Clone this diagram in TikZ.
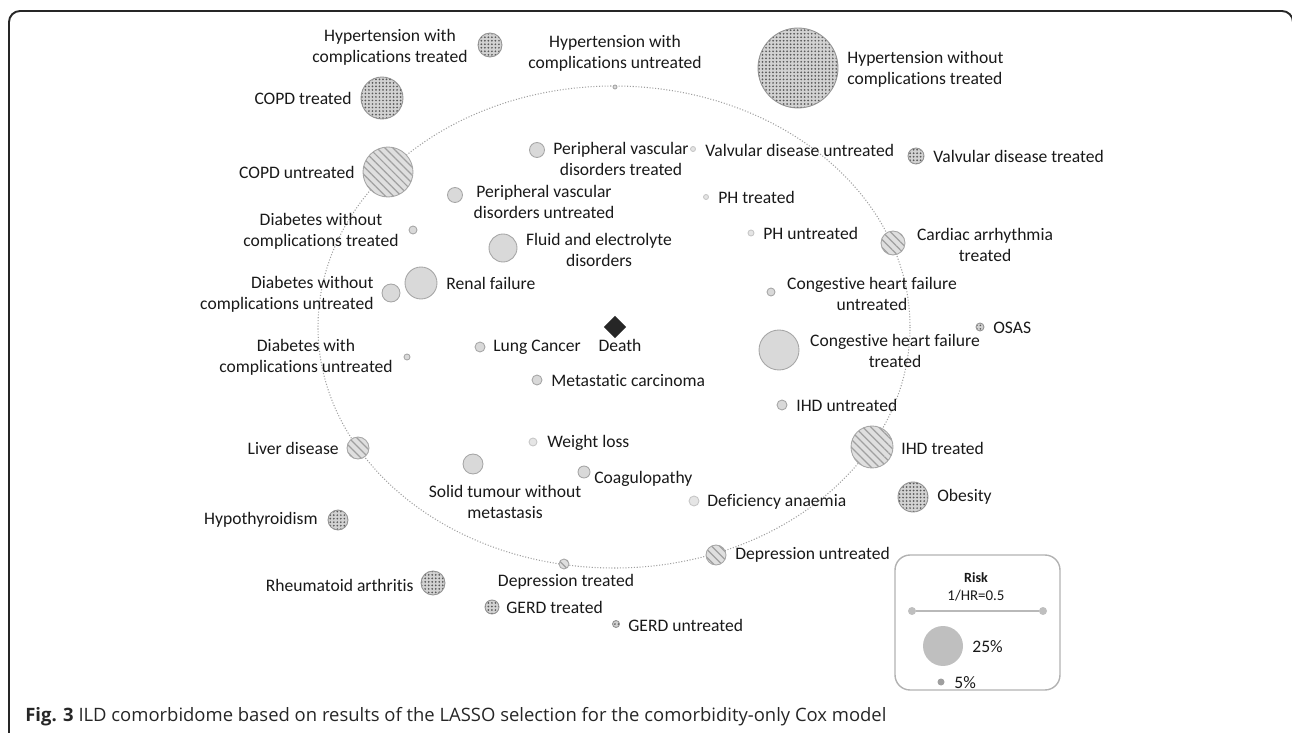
\documentclass[tikz,border=0pt]{standalone}
\usepackage{fontspec}
\setmainfont{Carlito}[Ligatures={NoCommon}]
\newfontfamily\capfont{Open Sans}
\usetikzlibrary{shapes.geometric,patterns.meta}

\begin{document}
\begin{tikzpicture}[
    x=0.02cm, y=-0.02cm,
    bub/.style={circle, draw=gray!70, fill=gray!30, line width=0.5pt, inner sep=0pt,
                minimum size=0.04cm*#1},
    bublight/.style={bub=#1, draw=gray!45, fill=gray!20},
    bubdot/.style={bub=#1, draw=gray!85, preaction={fill=gray!35},
                   pattern={Dots[distance=2pt, radius=0.55pt]}, pattern color=black!65},
    bubline/.style={bub=#1, preaction={fill=gray!25},
                    pattern={Lines[angle=-45, distance=3.2pt, line width=0.7pt]}, pattern color=gray!75},
    lbl/.style={font=\fontsize{10}{12}\selectfont, text=black!90, align=center, inner sep=0pt},
    ring/.style={gray!75, densely dotted, line width=0.6pt},
    frame/.style={black!85, line width=1.1pt, rounded corners=0.22cm},
    death/.style={diamond, fill=black!85, inner sep=0pt, minimum size=0.45cm},
    legbox/.style={draw=gray!60, line width=0.8pt, rounded corners=0.3cm,
                   minimum width=3.3cm, minimum height=2.7cm},
    legdot/.style={circle, fill=gray!50, inner sep=0pt, minimum size=0.16cm}
]
\useasboundingbox (0,0) rectangle (1292,733);
\draw[frame] (9,11) rectangle (1293,800);

\coordinate (ctr) at (614,327);
\draw[ring] (ctr) ellipse [x radius=296, y radius=241];

\node[bubdot=12]  (hypct)  at (490, 45) {};
\node[bub=2]      (hypcu)  at (615, 87) {};
\node[bubdot=40]  (hypwt)  at (798, 68) {};
\node[bubdot=21]  (copdt)  at (382, 98) {};
\node[bubline=25] (copdu)  at (388,172) {};
\node[bub=7.5]    (pvt)    at (537,150) {};
\node[bublight=2.5] (vdu)  at (693,149) {};
\node[bubdot=8]   (vdt)    at (916,156) {};
\node[bub=7.5]    (pvu)    at (455,195) {};
\node[bublight=2.5] (pht)  at (706,197) {};
\node[bub=4]      (dwoct)  at (413,230) {};
\node[bub=14]     (fluid)  at (503,248) {};
\node[bublight=3] (phu)    at (751,233) {};
\node[bubline=12] (cardt)  at (893,243) {};
\node[bub=9]      (dwocu)  at (391,293) {};
\node[bub=16]     (renal)  at (421,283) {};
\node[bub=4]      (chfu)   at (771,292) {};
\node[bubdot=4]   (osas)   at (980,327) {};
\node[death]      (death)  at (615,327) {};
\node[bub=5]      (lung)   at (480,347) {};
\node[bub=3]      (dwcu)   at (407,357) {};
\node[bub=20]     (chft)   at (779,350) {};
\node[bub=5]      (meta)   at (537,380) {};
\node[bub=5]      (ihdu)   at (782,405) {};
\node[bubline=11] (liver)  at (358,448) {};
\node[bublight=4] (weight) at (533,442) {};
\node[bubline=21] (ihdt)   at (872,447) {};
\node[bub=10]     (solid)  at (473,464) {};
\node[bub=6]      (coag)   at (584,472) {};
\node[bublight=5] (defan)  at (694,501) {};
\node[bubdot=15]  (obes)   at (913,497) {};
\node[bubdot=10]  (hypoth) at (338,520) {};
\node[bubline=10] (depu)   at (716,555) {};
\node[bubline=5]  (dept)   at (564,564) {};
\node[bubdot=12]  (rheum)  at (433,583) {};
\node[bubdot=7]   (gerdt)  at (492,607) {};
\node[bubdot=3.5] (gerdu)  at (616,624) {};

\node[lbl] (hypct-l) at (390, 47) {Hypertension with\\complications treated};
\node[lbl] (hypcu-l) at (615, 53) {Hypertension with\\complications untreated};
\node[lbl, anchor=west, align=left] (hypwt-l) at (847, 69) {Hypertension without\\complications treated};
\node[lbl, anchor=east] (copdt-l) at (352, 98) {COPD treated};
\node[lbl, anchor=east] (copdu-l) at (355,172) {COPD untreated};
\node[lbl] (pvt-l) at (621,159) {Peripheral vascular\\disorders treated};
\node[lbl, anchor=west] (vdu-l) at (705,150) {Valvular disease untreated};
\node[lbl, anchor=west] (vdt-l) at (933,156) {Valvular disease treated};
\node[lbl] (pvu-l) at (544,202) {Peripheral vascular\\disorders untreated};
\node[lbl, anchor=west] (pht-l) at (718,197) {PH treated};
\node[lbl] (dwoct-l) at (321,231) {Diabetes without\\complications treated};
\node[lbl] (fluid-l) at (599,250) {Fluid and electrolyte\\disorders};
\node[lbl, anchor=west] (phu-l) at (763,233) {PH untreated};
\node[lbl] (cardt-l) at (985,245) {Cardiac arrhythmia\\treated};
\node[lbl, anchor=east, align=right] (dwocu-l) at (374,294) {Diabetes without\\complications untreated};
\node[lbl, anchor=west] (renal-l) at (446,283) {Renal failure};
\node[lbl] (chfu-l) at (872,294) {Congestive heart failure\\untreated};
\node[lbl, anchor=west] (osas-l) at (993,328) {OSAS};
\node[lbl] (death-l) at (620,345) {Death};
\node[lbl, anchor=west] (lung-l) at (493,347) {Lung Cancer};
\node[lbl] (dwcu-l) at (306,357) {Diabetes with\\complications untreated};
\node[lbl] (chft-l) at (895,351) {Congestive heart failure\\treated};
\node[lbl, anchor=west] (meta-l) at (551,381) {Metastatic carcinoma};
\node[lbl, anchor=west] (ihdu-l) at (796,405) {IHD untreated};
\node[lbl, anchor=east] (liver-l) at (339,448) {Liver disease};
\node[lbl, anchor=west] (weight-l) at (547,443) {Weight loss};
\node[lbl, anchor=west] (ihdt-l) at (901,448) {IHD treated};
\node[lbl] (solid-l) at (505,502) {Solid tumour without\\metastasis};
\node[lbl, anchor=west] (coag-l) at (594,479) {Coagulopathy};
\node[lbl, anchor=west] (defan-l) at (707,502) {Deficiency anaemia};
\node[lbl, anchor=west] (obes-l) at (937,497) {Obesity};
\node[lbl, anchor=east] (hypoth-l) at (318,520) {Hypothyroidism};
\node[lbl, anchor=west] (depu-l) at (735,555) {Depression untreated};
\node[lbl] (dept-l) at (566,582) {Depression treated};
\node[lbl, anchor=east] (rheum-l) at (414,585) {Rheumatoid arthritis};
\node[lbl, anchor=west] (gerdt-l) at (506,607) {GERD treated};
\node[lbl, anchor=west] (gerdu-l) at (628,625) {GERD untreated};

\node[legbox] (leg) at (977.5,622.5) {};
\node[lbl, font=\fontsize{8}{10}\selectfont\bfseries] (risk) at (976,578) {Risk};
\node[lbl, font=\fontsize{8.5}{10}\selectfont] (hr) at (976,596) {1/HR=0.5};
\node[legdot] (hra) at (912,611) {};
\node[legdot] (hrb) at (1043,611) {};
\draw[gray!55, line width=1.2pt] (hra) -- (hrb);
\node[circle, fill=gray!50, inner sep=0pt, minimum size=0.8cm] (big) at (943,646) {};
\node[lbl, anchor=west] (big-l) at (972,647) {25\%};
\node[circle, fill=gray!75, inner sep=0pt, minimum size=0.14cm] (small) at (941,682) {};
\node[lbl, anchor=west] (small-l) at (954,683) {5\%};

\node[anchor=west, inner sep=0pt, text=black!85, font=\capfont\fontsize{10.5}{12}\selectfont] (cap) at (25,717)
    {\textbf{Fig. 3} ILD comorbidome based on results of the LASSO selection for the comorbidity-only Cox model};
\end{tikzpicture}
\end{document}
